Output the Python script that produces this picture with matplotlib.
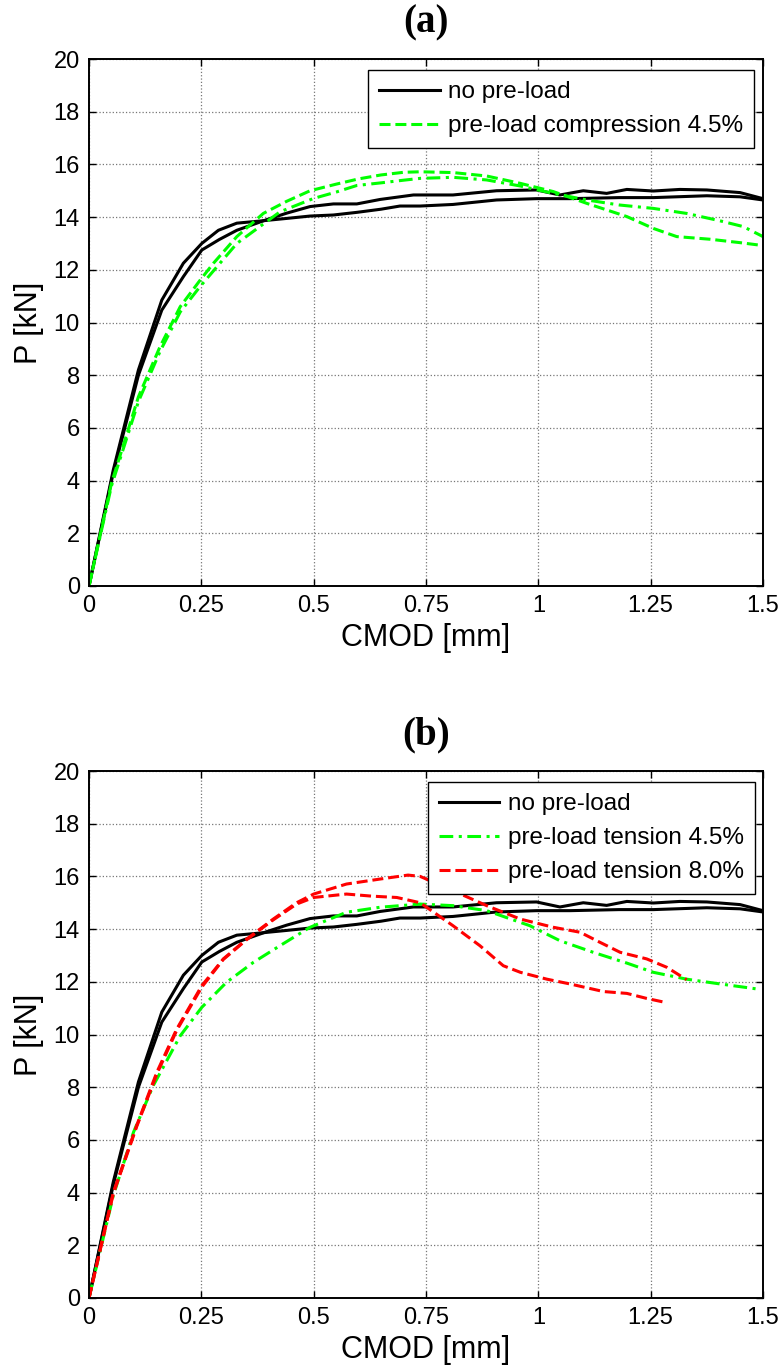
import numpy as np
import matplotlib
matplotlib.use('Agg')
import matplotlib.pyplot as plt

plt.rcParams['font.family'] = ['Liberation Sans', 'DejaVu Sans']

# no pre-load, specimen 1 and 2 (same in both panels)
ref1_x = [0, 0.054, 0.11, 0.162, 0.21, 0.251, 0.288, 0.329, 0.38, 0.44, 0.492, 0.544, 0.596, 0.65, 0.692,
          0.737, 0.81, 0.907, 0.996, 1.07, 1.18, 1.256, 1.375, 1.449, 1.5]
ref1_y = [0, 4.4, 8.2, 10.85, 12.25, 13.0, 13.5, 13.77, 13.85, 13.95, 14.04, 14.08, 14.18, 14.3, 14.42,
          14.42, 14.48, 14.65, 14.7, 14.7, 14.74, 14.74, 14.81, 14.77, 14.65]
ref2_x = [0, 0.054, 0.11, 0.162, 0.21, 0.251, 0.29, 0.329, 0.395, 0.44, 0.492, 0.544, 0.596, 0.648, 0.722,
          0.81, 0.907, 0.996, 1.048, 1.10, 1.152, 1.197, 1.256, 1.315, 1.375, 1.449, 1.5]
ref2_y = [0, 4.3, 8.0, 10.47, 11.74, 12.75, 13.15, 13.5, 13.9, 14.15, 14.4, 14.5, 14.5, 14.67, 14.84,
          14.84, 15.0, 15.03, 14.84, 15.0, 14.9, 15.05, 14.99, 15.05, 15.03, 14.93, 14.7]

# (a) pre-load compression 4.5%
comp1_x = [0, 0.05, 0.11, 0.158, 0.203, 0.247, 0.277, 0.329, 0.388, 0.44, 0.492, 0.55, 0.6, 0.65, 0.7,
           0.737, 0.81, 0.885, 0.96, 1.033, 1.108, 1.197, 1.256, 1.308, 1.382, 1.449, 1.5]
comp1_y = [0, 3.9, 7.18, 9.08, 10.6, 11.6, 12.25, 13.26, 14.14, 14.6, 15.0, 15.25, 15.45, 15.6, 15.7,
           15.72, 15.69, 15.56, 15.28, 14.97, 14.52, 14.02, 13.57, 13.26, 13.16, 13.03, 12.92]
comp2_x = [0, 0.05, 0.11, 0.158, 0.203, 0.247, 0.329, 0.425, 0.5, 0.55, 0.596, 0.65, 0.7, 0.737, 0.81,
           0.885, 0.96, 1.033, 1.108, 1.18, 1.256, 1.33, 1.404, 1.456, 1.5]
comp2_y = [0, 3.8, 7.0, 8.9, 10.4, 11.36, 13.0, 14.2, 14.71, 14.95, 15.2, 15.3, 15.4, 15.47, 15.51,
           15.41, 15.18, 14.9, 14.65, 14.46, 14.33, 14.14, 13.86, 13.64, 13.26]

# (b) pre-load tension 4.5%
ten45_x = [0, 0.054, 0.099, 0.143, 0.203, 0.251, 0.306, 0.366, 0.425, 0.492, 0.573, 0.648, 0.737, 0.81,
           0.885, 0.981, 1.048, 1.122, 1.197, 1.256, 1.33, 1.404, 1.486]
ten45_y = [0, 3.88, 6.29, 8.06, 9.95, 11.03, 11.98, 12.74, 13.37, 14.07, 14.64, 14.83, 14.95, 14.89,
           14.7, 14.13, 13.56, 13.12, 12.71, 12.36, 12.1, 11.92, 11.73]

# (b) pre-load tension 8.0%, two specimens
ten80a_x = [0, 0.054, 0.106, 0.151, 0.195, 0.251, 0.299, 0.351, 0.41, 0.462, 0.5, 0.573, 0.648, 0.71,
            0.737, 0.81, 0.885, 0.96, 1.033, 1.093, 1.137, 1.182, 1.241, 1.286, 1.33]
ten80a_y = [0, 4.0, 6.54, 8.57, 10.2, 11.85, 12.87, 13.62, 14.38, 15.0, 15.33, 15.71, 15.9, 16.05,
            16.0, 15.46, 14.89, 14.38, 14.07, 13.88, 13.5, 13.12, 12.87, 12.55, 12.08]
ten80b_x = [0, 0.054, 0.106, 0.151, 0.195, 0.251, 0.299, 0.351, 0.41, 0.462, 0.5, 0.573, 0.63, 0.685,
            0.737, 0.81, 0.87, 0.922, 0.96, 1.019, 1.07, 1.145, 1.197, 1.241, 1.282]
ten80b_y = [0, 3.95, 6.5, 8.5, 10.15, 11.8, 12.85, 13.6, 14.35, 14.95, 15.2, 15.33, 15.25, 15.2,
            15.0, 14.13, 13.37, 12.61, 12.36, 12.1, 11.92, 11.63, 11.56, 11.37, 11.22]

xticks = [0, 0.25, 0.5, 0.75, 1, 1.25, 1.5]
xticklabels = ['0', '0.25', '0.5', '0.75', '1', '1.25', '1.5']
yticks = np.arange(0, 21, 2)

GREEN = '#00ff00'
RED = '#ff0000'
DASH = (0, (3.6, 1.6))
DASHDOT = (0, (4.5, 1.8, 1.0, 1.8))
LW = 2.2

W, H = 782, 1372
fig = plt.figure(figsize=(W / 100, H / 100), dpi=100)


def make_axes(top_px, title):
    ax = fig.add_axes([89 / W, 1 - (top_px + 527) / H, 674 / W, 527 / H])
    ax.set_xlim(0, 1.5)
    ax.set_ylim(0, 20)
    ax.set_xticks(xticks)
    ax.set_xticklabels(xticklabels)
    ax.set_yticks(yticks)
    ax.tick_params(direction='in', top=True, right=True, length=5, width=1,
                   labelsize=17, pad=6.5)
    ax.grid(True, linestyle=':', color='#777777', linewidth=0.9)
    for s in ax.spines.values():
        s.set_linewidth(1.4)
    ax.set_xlabel('CMOD [mm]', fontsize=22, labelpad=4)
    ax.set_ylabel('P [kN]', fontsize=22, labelpad=7)
    fig.text(0.5 * (89 + 763) / W, 1 - (top_px - 36) / H, title, ha='center', va='center',
             fontsize=28, fontweight='bold', family=['Liberation Serif', 'DejaVu Serif'])
    return ax


def add_legend(ax, anchor):
    leg = ax.legend(loc='upper right', bbox_to_anchor=anchor, borderaxespad=0,
                    fontsize=17.5, fancybox=False, framealpha=1, edgecolor='k',
                    handlelength=2.5, handletextpad=0.35, labelspacing=0.5, borderpad=0.45)
    leg.get_frame().set_linewidth(1.0)
    return leg


ax1 = make_axes(59, '(a)')
ax1.plot(ref1_x, ref1_y, color='k', lw=LW, label='no pre-load')
ax1.plot(ref2_x, ref2_y, color='k', lw=LW)
ax1.plot(comp1_x, comp1_y, color=GREEN, lw=LW, ls=DASH, label='pre-load compression 4.5%')
ax1.plot(comp2_x, comp2_y, color=GREEN, lw=LW, ls=DASHDOT)
add_legend(ax1, (0.987, 0.979))

ax2 = make_axes(771, '(b)')
ax2.plot(ref1_x, ref1_y, color='k', lw=LW, label='no pre-load')
ax2.plot(ref2_x, ref2_y, color='k', lw=LW)
ax2.plot(ten45_x, ten45_y, color=GREEN, lw=LW, ls=DASHDOT, label='pre-load tension 4.5%')
ax2.plot(ten80a_x, ten80a_y, color=RED, lw=LW, ls=DASH, label='pre-load tension 8.0%')
ax2.plot(ten80b_x, ten80b_y, color=RED, lw=LW, ls=DASH)
add_legend(ax2, (0.988, 0.979))

fig.savefig('out.png', dpi=100)
